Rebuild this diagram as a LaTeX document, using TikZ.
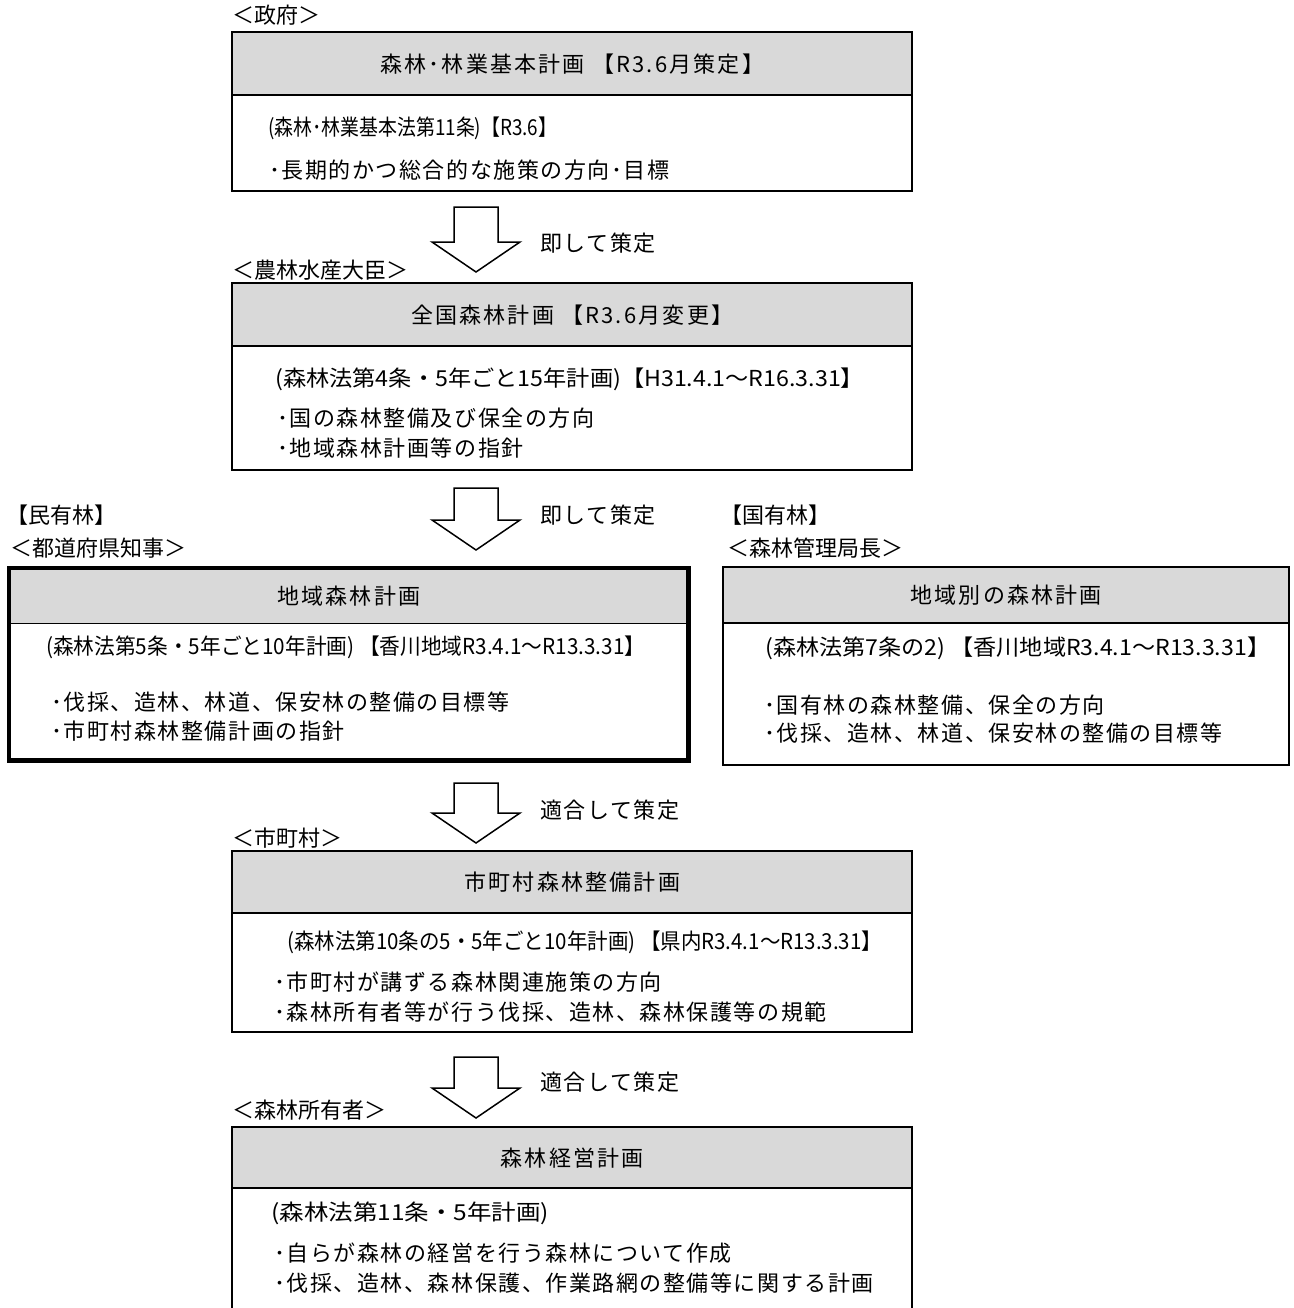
\documentclass[tikz,border=0pt]{standalone}
\usepackage{fontspec}
\usepackage{graphicx}
\setmainfont{Noto Sans CJK JP}
\newfontfamily\bodyfont[LetterSpace=7]{Noto Sans CJK JP}
\newfontfamily\headfont[LetterSpace=10]{Noto Sans CJK JP}
\usetikzlibrary{calc}
\definecolor{hdrgray}{HTML}{D9D9D9}
\newcommand\fsz{\bodyfont\fontsize{22pt}{26pt}\selectfont}
\newcommand\fhd{\headfont\fontsize{22pt}{26pt}\selectfont}
\newcommand\flab{\fontsize{22pt}{26pt}\selectfont}
\newcommand\fpar{\fontsize{22pt}{26pt}\selectfont}
\newlength\fitlen
\newcommand\fitw[2]{\settowidth{\fitlen}{#2}\pgfmathsetmacro\fitfac{#1/\fitlen}\scalebox{\fitfac}[1]{#2}}
\newcommand\blkarrow[2]{%
  \draw[blockarrow] ($(#1)+(-22,0)$) -- ($(#1)+(22,0)$) -- ($(#2)+(22,30)$) -- ($(#2)+(44,30)$) -- (#2) -- ($(#2)+(-44,30)$) -- ($(#2)+(-22,30)$) -- cycle;}
\begin{document}
\begin{tikzpicture}[x=1pt,y=1pt,
  frame/.style={fill=white, inner sep=0, anchor=north west},
  hdr/.style={fill=hdrgray, inner sep=0, anchor=north west, font=\fhd},
  outline/.style={line width=2pt},
  txt/.style={anchor=west, inner sep=0, font=\fsz},
  lab/.style={anchor=west, inner sep=0, font=\flab},
  ptxt/.style={anchor=west, inner sep=0, font=\fpar},
  blockarrow/.style={draw, line width=1.5pt, fill=white, line join=miter},
]
\useasboundingbox (0,0) rectangle (1293,-1308);

% ---------- Box 1 ----------
\node[lab] (lab1) at (232,-15) {＜政府＞};
\node[frame, minimum width=680, minimum height=159] (b1) at (232,-32) {};
\node[hdr, minimum width=680, minimum height=63] (b1h) at (b1.north west) {森林･林業基本計画 【R3.6月策定】};
\draw[outline] (b1.north west) rectangle (b1.south east);
\draw[outline] (b1h.south west) -- (b1h.south east);
\node[ptxt] (b1l1) at (268,-128) {\fitw{289}{(森林･林業基本法第11条)【R3.6】}};
\node[txt] (b1l2) at (269,-170) {･長期的かつ総合的な施策の方向･目標};

% ---------- Arrow 1 ----------
\coordinate (a1t) at (476,-207);
\coordinate (a1b) at (476,-272);
\blkarrow{a1t}{a1b}
\node[txt] (a1l) at (540,-243) {即して策定};

% ---------- Box 2 ----------
\node[lab] (lab2) at (232,-270) {＜農林水産大臣＞};
\node[frame, minimum width=680, minimum height=187] (b2) at (232,-283) {};
\node[hdr, minimum width=680, minimum height=63] (b2h) at (b2.north west) {全国森林計画 【R3.6月変更】};
\draw[outline] (b2.north west) rectangle (b2.south east);
\draw[outline] (b2h.south west) -- (b2h.south east);
\node[ptxt] (b2l1) at (275,-379) {\fitw{589}{(森林法第4条・5年ごと15年計画)【H31.4.1～R16.3.31】}};
\node[txt] (b2l2) at (277,-418) {･国の森林整備及び保全の方向};
\node[txt] (b2l3) at (277,-448) {･地域森林計画等の指針};

% ---------- Arrow 2 ----------
\coordinate (a2t) at (476,-488);
\coordinate (a2b) at (476,-550);
\blkarrow{a2t}{a2b}
\node[txt] (a2l) at (540,-515) {即して策定};

% ---------- Box 3 (private forests) ----------
\node[lab] (lab3a) at (6,-515) {【民有林】};
\node[lab] (lab3b) at (10,-548) {＜都道府県知事＞};
\node[frame, minimum width=679, minimum height=192] (b3) at (9,-568) {};
\node[hdr, minimum width=679, minimum height=55] (b3h) at (b3.north west) {地域森林計画};
\draw[line width=1.2pt] (b3h.south west) -- (b3h.south east);
\draw[line width=4.5pt] (b3.north west) rectangle (b3.south east);
\node[ptxt] (b3l1) at (46,-647) {\fitw{599}{(森林法第5条・5年ごと10年計画) 【香川地域R3.4.1～R13.3.31】}};
\node[txt] (b3l2) at (51,-702) {･伐採、造林、林道、保安林の整備の目標等};
\node[txt] (b3l3) at (51,-731) {･市町村森林整備計画の指針};

% ---------- Box 4 (national forests) ----------
\node[lab] (lab4a) at (720,-515) {【国有林】};
\node[lab] (lab4b) at (727,-548) {＜森林管理局長＞};
\node[frame, minimum width=566, minimum height=198] (b4) at (723,-567) {};
\node[hdr, minimum width=566, minimum height=56] (b4h) at (b4.north west) {地域別の森林計画};
\draw[outline] (b4.north west) rectangle (b4.south east);
\draw[outline] (b4h.south west) -- (b4h.south east);
\node[ptxt] (b4l1) at (765,-648) {\fitw{505}{(森林法第7条の2) 【香川地域R3.4.1～R13.3.31】}};
\node[txt] (b4l2) at (764,-705) {･国有林の森林整備、保全の方向};
\node[txt] (b4l3) at (764,-733) {･伐採、造林、林道、保安林の整備の目標等};

% ---------- Arrow 3 ----------
\coordinate (a3t) at (476,-783);
\coordinate (a3b) at (476,-843);
\blkarrow{a3t}{a3b}
\node[txt] (a3l) at (540,-810) {適合して策定};

% ---------- Box 5 ----------
\node[lab] (lab5) at (232,-838) {＜市町村＞};
\node[frame, minimum width=680, minimum height=181] (b5) at (232,-851) {};
\node[hdr, minimum width=680, minimum height=62] (b5h) at (b5.north west) {市町村森林整備計画};
\draw[outline] (b5.north west) rectangle (b5.south east);
\draw[outline] (b5h.south west) -- (b5h.south east);
\node[ptxt] (b5l1) at (287,-942) {\fitw{595}{(森林法第10条の5・5年ごと10年計画) 【県内R3.4.1～R13.3.31】}};
\node[txt] (b5l2) at (274,-982) {･市町村が講ずる森林関連施策の方向};
\node[txt] (b5l3) at (274,-1012) {･森林所有者等が行う伐採、造林、森林保護等の規範};

% ---------- Arrow 4 ----------
\coordinate (a4t) at (476,-1057);
\coordinate (a4b) at (476,-1118);
\blkarrow{a4t}{a4b}
\node[txt] (a4l) at (540,-1082) {適合して策定};

% ---------- Box 6 ----------
\node[lab] (lab6) at (232,-1110) {＜森林所有者＞};
\node[frame, minimum width=680, minimum height=200] (b6) at (232,-1127) {};
\node[hdr, minimum width=680, minimum height=61] (b6h) at (b6.north west) {森林経営計画};
\draw[outline] (b6.south west) |- (b6.north east) -- (b6.south east);
\draw[outline] (b6h.south west) -- (b6h.south east);
\node[ptxt] (b6l1) at (271,-1213) {\fitw{278}{(森林法第11条・5年計画)}};
\node[txt] (b6l2) at (274,-1253) {･自らが森林の経営を行う森林について作成};
\node[txt] (b6l3) at (274,-1283) {･伐採、造林、森林保護、作業路網の整備等に関する計画};
\end{tikzpicture}
\end{document}
